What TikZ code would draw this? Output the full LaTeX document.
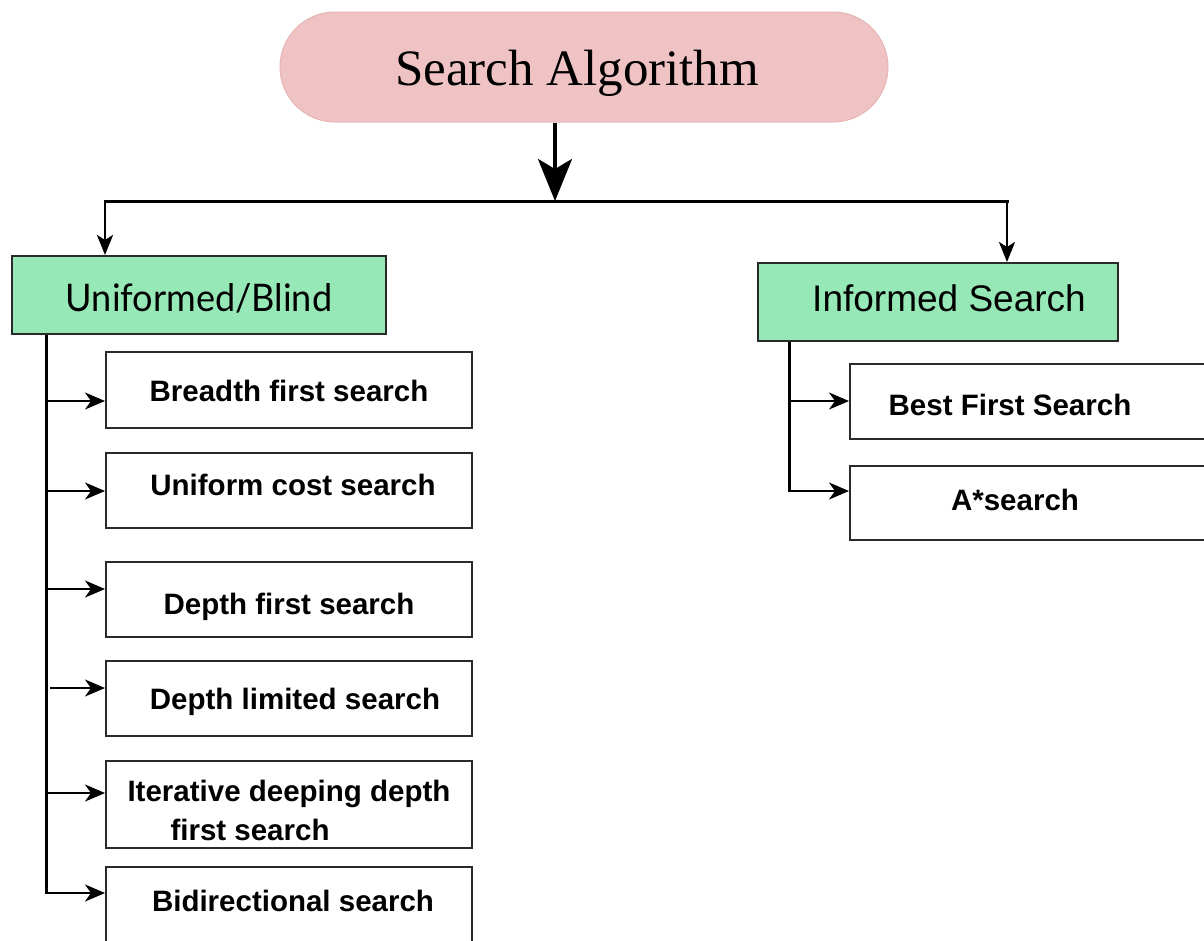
\documentclass[tikz,border=0pt]{standalone}
\usepackage{fontspec}
\setmainfont{Liberation Serif}
\newfontfamily\humsans{Lato}
\newfontfamily\arialsans{Liberation Sans}
\usetikzlibrary{arrows.meta}
\definecolor{pinkfill}{HTML}{EFC3C3}
\definecolor{pinkline}{HTML}{E6B4B4}
\definecolor{greenfill}{HTML}{96E8B6}
\definecolor{edgecol}{HTML}{2A2A2A}
\tikzset{
  rootbox/.style={fill=pinkfill, draw=pinkline, line width=1pt, rounded corners=55pt,
    minimum width=608pt, minimum height=110pt, inner sep=0pt,
    text height=34pt, text depth=0pt,
    font=\fontsize{51}{56}\selectfont},
  catbox/.style={fill=greenfill, draw=edgecol, line width=2pt, inner sep=0pt,
    text height=26pt, text depth=0pt},
  leafbox/.style={fill=white, draw=edgecol, line width=2pt, inner sep=0pt,
    text height=21pt, text depth=0pt,
    font=\arialsans\bfseries\fontsize{29.5}{39}\selectfont},
  bar/.style={line width=3pt, draw=black},
  branch/.style={line width=2.2pt, draw=black, -{Stealth[length=20pt,width=17pt,inset=6pt]}},
  droparrow/.style={line width=2.5pt, draw=black, -{Stealth[length=20pt,width=16pt,inset=5pt]}},
  mainarrow/.style={line width=3.5pt, draw=black, -{Stealth[length=42pt,width=34pt,inset=10pt]}}
}
\begin{document}
\begin{tikzpicture}[x=1pt,y=-1pt]
\useasboundingbox (0,0) rectangle (1204,940);
\clip (0,0) rectangle (1204,940);

% root
\node[rootbox] (root) at (584,67) {\raisebox{-1pt}{Search Algorithm}\hspace*{14pt}};

% categories
\node[catbox, minimum width=374pt, minimum height=78pt,
      font=\humsans\fontsize{38}{44}\selectfont] (uni) at (199,295)
      {\raisebox{-3pt}{\scalebox{0.95}[1]{Uniformed/Blind}}};
\node[catbox, minimum width=360pt, minimum height=78pt,
      font=\arialsans\fontsize{37}{44}\selectfont] (inf) at (938,302)
      {\hspace*{22pt}\raisebox{4pt}{Informed Search}};

% left leaves
\node[leafbox, minimum width=366pt, minimum height=76pt] (b1) at (289,390) {\raisebox{-1pt}{Breadth first search}};
\node[leafbox, minimum width=366pt, minimum height=75pt] (b2) at (289,490.5) {\hspace*{8pt}\raisebox{5.5pt}{Uniform cost search}};
\node[leafbox, minimum width=366pt, minimum height=75pt] (b3) at (289,599.5) {\raisebox{-4.5pt}{Depth first search}};
\node[leafbox, minimum width=366pt, minimum height=75pt] (b4) at (289,698.5) {\hspace*{12pt}Depth limited search};
\node[leafbox, minimum width=366pt, minimum height=87pt, align=left,
      text height=, text depth=] (b5) at (289,804.5)
  {\rule{0pt}{33pt}Iterative deeping depth\\\hspace*{43pt}first search};
\node[leafbox, minimum width=366pt, minimum height=78pt] (b6) at (289,906) {\hspace*{8pt}\raisebox{5pt}{Bidirectional search}};

% right leaves
\node[leafbox, minimum width=360pt, minimum height=75pt] (r1) at (1030,401.5) {\raisebox{-3.5pt}{Best First Search}\hspace*{40pt}};
\node[leafbox, minimum width=360pt, minimum height=74pt] (r2) at (1030,503) {\raisebox{3pt}{A*search}\hspace*{30pt}};

% main connector
\coordinate (jn) at (555,201);
\coordinate (jL) at (105,201);
\coordinate (jR) at (1007,201);
\draw[mainarrow] (root.south -| jn) -- (jn);
\draw[bar] ([xshift=-1.5pt]jL) -- ([xshift=1.5pt]jR);
\draw[droparrow] (jL) -- (jL |- uni.north);
\draw[droparrow] (jR) -- (jR |- inf.north);

% left trunk
\coordinate (tL) at (46,895);
\draw[bar] (uni.south -| tL) -- ([yshift=1.5pt]tL);
\coordinate (a1) at (46,401);
\coordinate (a2) at (46,491);
\coordinate (a3) at (46,589);
\coordinate (a4) at (50,688);
\coordinate (a5) at (46,793);
\coordinate (a6) at (46,893);
\draw[branch] (a1) -- (a1 -| b1.west);
\draw[branch] (a2) -- (a2 -| b2.west);
\draw[branch] (a3) -- (a3 -| b3.west);
\draw[branch] (a4) -- (a4 -| b4.west);
\draw[branch] (a5) -- (a5 -| b5.west);
\draw[branch] (a6) -- (a6 -| b6.west);

% right trunk
\coordinate (a7) at (789,401);
\coordinate (a8) at (789,491);
\draw[bar] (inf.south -| a8) -- ([yshift=1pt]a8);
\draw[branch] (a7) -- (a7 -| r1.west);
\draw[branch] ([xshift=-1.5pt]a8) -- (a8 -| r2.west);
\end{tikzpicture}
\end{document}
